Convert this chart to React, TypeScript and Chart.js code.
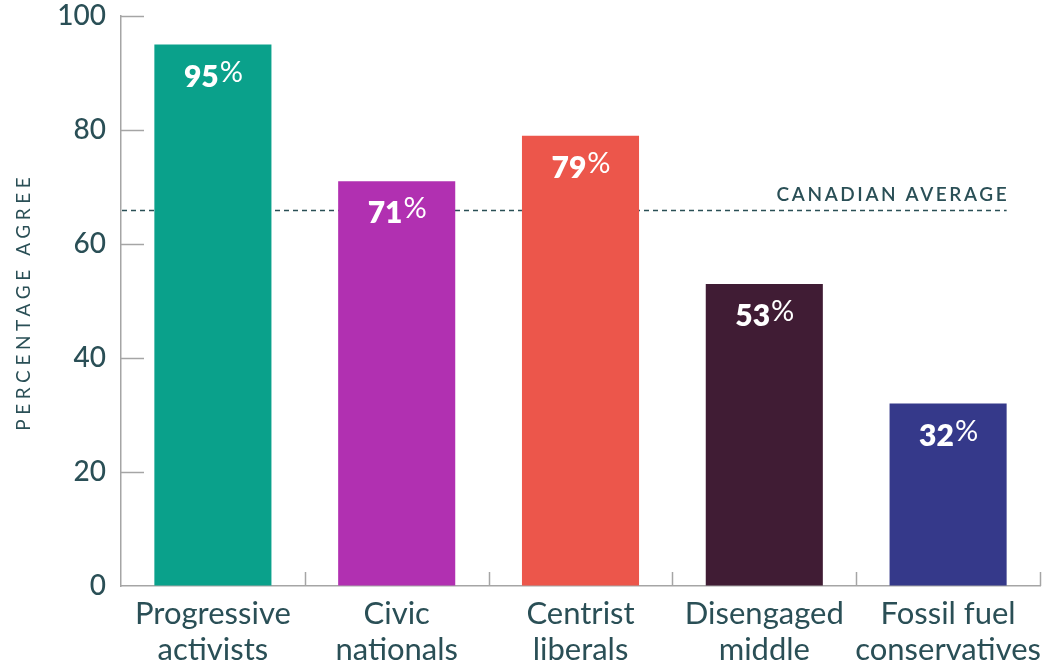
import React, { useEffect, useRef } from 'react';
import { Chart, registerables } from 'chart.js';

Chart.register(...registerables);

const categories: string[][] = [
  ['Progressive', 'activists'],
  ['Civic', 'nationals'],
  ['Centrist', 'liberals'],
  ['Disengaged', 'middle'],
  ['Fossil fuel', 'conservatives'],
];
const values: number[] = [95, 71, 79, 53, 32];
const barColors: string[] = ['#0aa18b', '#b130b1', '#ec564b', '#401c34', '#35398a'];
const yTicks: number[] = [0, 20, 40, 60, 80, 100];
const canadianAverage = 66;
const averageLabel = 'CANADIAN AVERAGE';
const yTitle = 'PERCENTAGE AGREE';

const TEXT = '#2a4f56';
const AXIS = '#a5a5a5';
const FONT = 'Lato';

const decorations = {
  id: 'decorations',
  beforeDatasetsDraw(chart: any) {
    const { ctx, chartArea, scales } = chart;
    const x = scales.x;
    const y = scales.y;
    const meta = chart.getDatasetMeta(0);
    const last = meta.data[meta.data.length - 1];
    const right = last.x + last.width / 2;
    const yAvg = Math.round(y.getPixelForValue(canadianAverage)) + 0.5;

    ctx.save();
    // average dashed line
    ctx.strokeStyle = TEXT;
    ctx.lineWidth = 1.3;
    ctx.setLineDash([5, 4]);
    ctx.beginPath();
    ctx.moveTo(chartArea.left + 1, yAvg);
    ctx.lineTo(right, yAvg);
    ctx.stroke();
    ctx.setLineDash([]);

    // average label
    ctx.font = `600 19px ${FONT}`;
    (ctx as any).letterSpacing = '2.6px';
    ctx.fillStyle = TEXT;
    ctx.textAlign = 'right';
    ctx.textBaseline = 'alphabetic';
    ctx.fillText(averageLabel, right + 2.6, yAvg - 10);
    (ctx as any).letterSpacing = '0px';

    // inward y tick marks
    ctx.strokeStyle = AXIS;
    ctx.lineWidth = 1.5;
    yTicks.forEach((v) => {
      if (v === 0) return;
      const py = Math.round(y.getPixelForValue(v)) + 0.5;
      ctx.beginPath();
      ctx.moveTo(chartArea.left, py);
      ctx.lineTo(chartArea.left + 23, py);
      ctx.stroke();
    });

    // inward x tick marks at category boundaries
    const half = (x.getPixelForValue(1) - x.getPixelForValue(0)) / 2;
    for (let i = 0; i < categories.length; i++) {
      const px = Math.round(x.getPixelForValue(i) + half) + 0.5;
      ctx.beginPath();
      ctx.moveTo(px, chartArea.bottom);
      ctx.lineTo(px, chartArea.bottom - 14);
      ctx.stroke();
    }

    // y axis title
    ctx.translate(24, (chartArea.top + chartArea.bottom) / 2 + 3);
    ctx.rotate(-Math.PI / 2);
    ctx.font = `400 19px ${FONT}`;
    (ctx as any).letterSpacing = '4.6px';
    ctx.fillStyle = TEXT;
    ctx.textAlign = 'center';
    ctx.textBaseline = 'middle';
    ctx.fillText(yTitle, 2.3, 0);
    ctx.restore();
  },
  afterDatasetsDraw(chart: any) {
    const { ctx } = chart;
    const meta = chart.getDatasetMeta(0);
    ctx.save();
    ctx.fillStyle = '#ffffff';
    ctx.textBaseline = 'alphabetic';
    ctx.textAlign = 'left';
    meta.data.forEach((bar: any, i: number) => {
      const num = String(values[i]);
      ctx.font = `800 30px ${FONT}`;
      const wNum = ctx.measureText(num).width;
      ctx.font = `400 29px ${FONT}`;
      const wPct = ctx.measureText('%').width;
      const start = bar.x - (wNum + wPct) / 2;
      const base = bar.y + 42;
      ctx.font = `800 30px ${FONT}`;
      ctx.fillText(num, start, base);
      ctx.font = `400 29px ${FONT}`;
      ctx.fillText('%', start + wNum + 1, base - 5);
    });
    ctx.restore();
  },
};

export default function App() {
  const canvasRef = useRef<HTMLCanvasElement | null>(null);

  useEffect(() => {
    const canvas = canvasRef.current;
    if (!canvas) return;
    const chart = new Chart(canvas, {
      type: 'bar',
      data: {
        labels: categories,
        datasets: [
          {
            data: values,
            backgroundColor: barColors,
            borderWidth: 0,
            barPercentage: 0.637,
            categoryPercentage: 1,
          },
        ],
      },
      options: {
        responsive: false,
        animation: false,
        layout: { padding: { top: 16, right: 6, left: 0, bottom: 0 } },
        plugins: {
          legend: { display: false },
          tooltip: { enabled: false },
        },
        scales: {
          x: {
            offset: true,
            grid: { drawOnChartArea: false, drawTicks: false },
            border: { display: true, color: AXIS, width: 1.5 },
            ticks: {
              color: TEXT,
              font: { family: FONT, size: 31, lineHeight: 1.17 },
              padding: 10,
              maxRotation: 0,
              autoSkip: false,
            },
            afterFit: (s: any) => {
              s.height = 80;
              s.paddingLeft = 0;
              s.paddingRight = 0;
            },
          },
          y: {
            min: 0,
            max: 100,
            grid: { drawOnChartArea: false, drawTicks: false },
            border: { display: true, color: AXIS, width: 1.5 },
            ticks: {
              color: TEXT,
              font: { family: FONT, size: 28, weight: '500', lineHeight: 1 },
              padding: 15,
            },
            afterBuildTicks: (s: any) => {
              s.ticks = yTicks.map((v) => ({ value: v }));
            },
            afterFit: (s: any) => {
              s.width = 121;
              s.paddingTop = 0;
              s.paddingBottom = 0;
            },
          },
        },
      },
      plugins: [decorations],
    });
    return () => chart.destroy();
  }, []);

  return (
    <div style={{ position: 'absolute', left: 0, top: 0, width: 1046, height: 666, background: '#fff' }}>
      <canvas ref={canvasRef} width={1046} height={666} style={{ display: 'block' }} />
    </div>
  );
}
